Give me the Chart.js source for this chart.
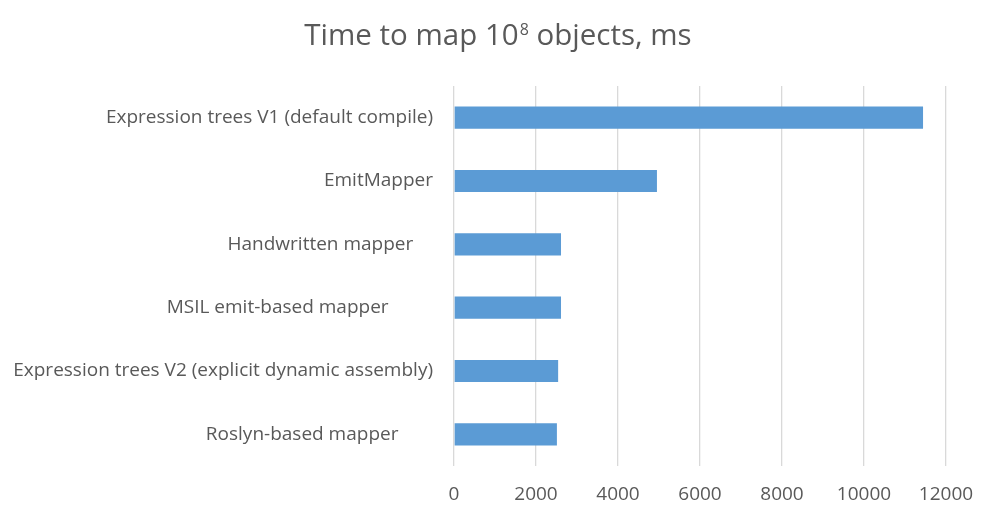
<!DOCTYPE html>
<html>
<head>
<meta charset="utf-8">
<script src="https://cdn.jsdelivr.net/npm/chart.js@4/dist/chart.umd.min.js"></script>
<style>
  html, body { margin: 0; padding: 0; background: #fff; }
  #wrap { width: 996px; height: 517px; position: relative; }
</style>
</head>
<body>
<div id="wrap"><canvas id="c"></canvas></div>
<script>
const categories = [
  "Expression trees V1 (default compile)",
  "EmitMapper",
  "Handwritten mapper    ",
  "MSIL emit-based mapper         ",
  "Expression trees V2 (explicit dynamic assembly)",
  "Roslyn-based mapper       "
];
const timeMs = [11440, 4950, 2610, 2610, 2540, 2510];
const xMin = 0, xMax = 12000, xStep = 2000;
const titleParts = ["Time to map 10", "8", " objects, ms"];

const FONT = "'Open Sans', Lato, sans-serif";
const TXT = "#595959";

const titlePlugin = {
  id: 'supTitle',
  afterDraw(chart) {
    const ctx = chart.ctx;
    ctx.save();
    ctx.fillStyle = TXT;
    ctx.textBaseline = 'alphabetic';
    const big = "29.5px " + FONT, small = "16px " + FONT;
    ctx.font = big; const w1 = ctx.measureText(titleParts[0]).width;
    const w3 = ctx.measureText(titleParts[2]).width;
    ctx.font = small; const w2 = ctx.measureText(titleParts[1]).width;
    const total = w1 + w2 + w3 + 1;
    let x = chart.width / 2 - total / 2;
    const y = 45;
    ctx.textAlign = 'left';
    ctx.font = big; ctx.fillText(titleParts[0], x, y); x += w1;
    ctx.font = small; ctx.fillText(titleParts[1], x + 1, y - 10); x += w2 + 1;
    ctx.font = big; ctx.fillText(titleParts[2], x, y);
    ctx.restore();
  }
};

new Chart(document.getElementById('c'), {
  type: 'bar',
  data: {
    labels: categories,
    datasets: [{
      data: timeMs,
      backgroundColor: '#5b9bd5',
      borderWidth: 0,
      barPercentage: 0.7,
      categoryPercentage: 0.5
    }]
  },
  options: {
    indexAxis: 'y',
    responsive: true,
    maintainAspectRatio: false,
    animation: false,
    layout: { padding: { top: 86, right: 50, bottom: 0, left: 0 } },
    plugins: { legend: { display: false }, title: { display: false }, tooltip: { enabled: false } },
    scales: {
      x: {
        min: xMin, max: xMax,
        ticks: { stepSize: xStep, color: TXT, font: { family: FONT, size: 19 }, padding: 17,
                 callback: (v) => String(v) },
        grid: { color: '#d9d9d9', lineWidth: 1.3, drawTicks: false },
        border: { display: false },
        afterFit: (scale) => { scale.height = 51; }
      },
      y: {
        ticks: { color: TXT, font: { family: FONT, size: 19 }, padding: 21 },
        grid: { display: false, drawTicks: false },
        border: { display: false },
        afterFit: (scale) => { scale.width = 454; }
      }
    }
  },
  plugins: [titlePlugin]
});
</script>
</body>
</html>
